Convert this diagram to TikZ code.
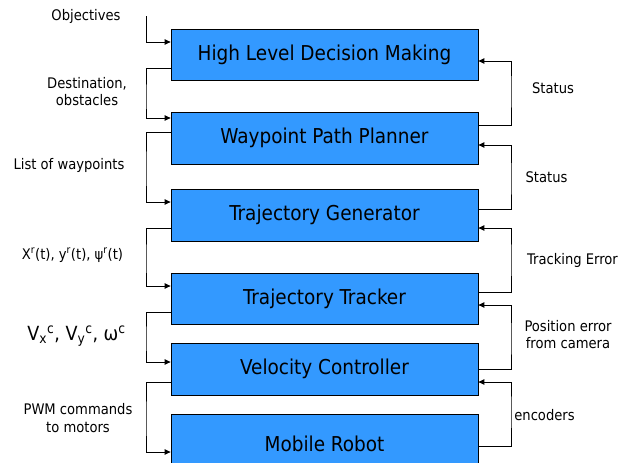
\documentclass[tikz,border=0pt]{standalone}
\usepackage{fontspec}
\setmainfont{DejaVu Sans Condensed}
\usetikzlibrary{arrows.meta}
\definecolor{blockblue}{RGB}{51,153,255}
\begin{document}
\begin{tikzpicture}[x=1pt,y=-1pt,
  block/.style={draw=black, line width=0.8pt, fill=blockblue, rectangle,
    minimum width=307pt, inner sep=0pt, font=\fontsize{20.5}{22}\selectfont},
  conn/.style={draw=black, line width=0.9pt, -{Triangle[length=6pt,width=5.5pt]}},
  lbl/.style={align=center, inner sep=0pt, font=\fontsize{14.6}{17.5}\selectfont}]
\useasboundingbox (0,0) rectangle (621,463);
\clip (0,0) rectangle (621,463);

% processing chain
\node[block, minimum height=51pt] (b1) at (324.5,54.5) {High Level Decision Making};
\node[block, minimum height=52pt] (b2) at (324.5,138) {Waypoint Path Planner};
\node[block, minimum height=52pt] (b3) at (324.5,215) {Trajectory Generator};
\node[block, minimum height=51pt] (b4) at (324.5,298.5) {Trajectory Tracker};
\node[block, minimum height=52pt] (b5) at (324.5,369) {Velocity Controller};
\node[block, minimum height=60pt] (b6) at (324.5,444) {Mobile Robot};

% downward commands (left side)
\coordinate (objin) at (146,16);
\draw[conn] (objin) |- (b1.west |- 0,42);
\draw[conn] (b1.west |- 0,68) -| (146,100) |- (b2.west |- 0,118);
\draw[conn] (b2.west |- 0,132) -| (146,170) |- (b3.west |- 0,202);
\draw[conn] (b3.west |- 0,228) -| (146,260) |- (b4.west |- 0,286);
\draw[conn] (b4.west |- 0,312) -| (146,340) |- (b5.west |- 0,362);
\draw[conn] (b5.west |- 0,382) -| (146,420) |- (b6.west |- 0,452);

% feedback (right side)
\draw[conn] (b2.east |- 0,125) -| (511,90) |- (b1.east |- 0,61);
\draw[conn] (b3.east |- 0,209) -| (511,180) |- (b2.east |- 0,145);
\draw[conn] (b4.east |- 0,292) -| (511,260) |- (b3.east |- 0,228);
\draw[conn] (b5.east |- 0,369) -| (511,340) |- (b4.east |- 0,305);
\draw[conn] (b6.east |- 0,446) -| (511,410) |- (b5.east |- 0,382);

% labels, left
\node[lbl] (lobj) at (86,16) {Objectives};
\node[lbl] (ldest) at (87,91.5) {Destination,\\obstacles};
\node[lbl] (lway) at (69,165) {List of waypoints};
\node[lbl] (lref) at (72.5,255) {X\textsuperscript{r}(t), y\textsuperscript{r}(t), ψ\textsuperscript{r}(t)};
\node[lbl, font=\fontsize{19.5}{21}\selectfont] (lvel) at (76.5,336) {V\textsubscript{x}\textsuperscript{c}, V\textsubscript{y}\textsuperscript{c}, ω\textsuperscript{c}};
\node[lbl] (lpwm) at (78,418) {PWM commands\\to motors};

% labels, right
\node[lbl] (lst1) at (553,88) {Status};
\node[lbl] (lst2) at (546.5,177) {Status};
\node[lbl] (ltrk) at (572.5,260) {Tracking Error};
\node[lbl] (lpos) at (568,334.5) {Position error\\from camera};
\node[lbl] (lenc) at (544.5,415) {encoders};
\end{tikzpicture}
\end{document}
